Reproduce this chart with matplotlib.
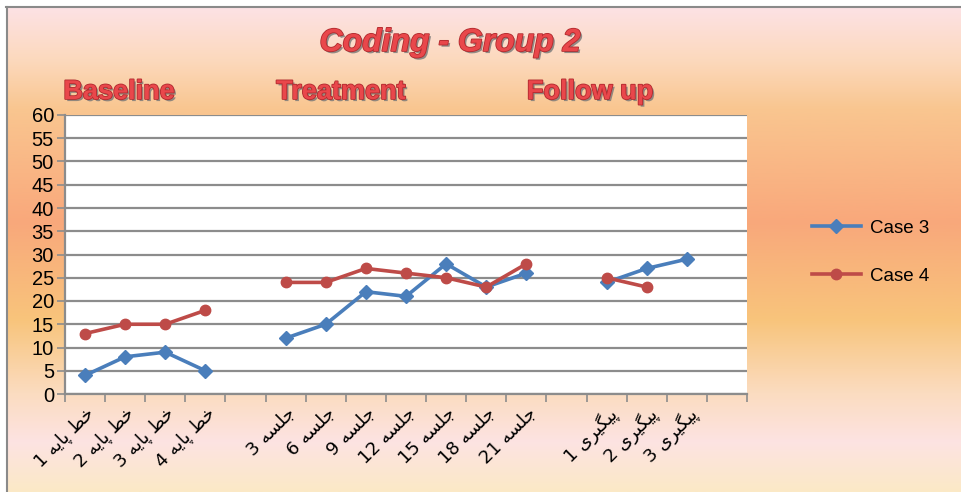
import matplotlib.pyplot as plt
import matplotlib.patheffects as pe
import numpy as np
from matplotlib.colors import LinearSegmentedColormap

nan = np.nan

# categories (logical Persian text), empty strings are the gaps between phases
categories = ["خط پایه 1", "خط پایه 2", "خط پایه 3", "خط پایه 4", "",
              "جلسه 3", "جلسه 6", "جلسه 9", "جلسه 12", "جلسه 15", "جلسه 18", "جلسه 21", "",
              "پیگیری 1", "پیگیری 2", "پیگیری 3", ""]
case3 = [4, 8, 9, 5, nan, 12, 15, 22, 21, 28, 23, 26, nan, 24, 27, 29, nan]
case4 = [13, 15, 15, 18, nan, 24, 24, 27, 26, 25, 23, 28, nan, 25, 23, nan, nan]
phases = ["Baseline", "Treatment", "Follow up"]
title = "Coding - Group 2"

# --- tiny arabic shaper (matplotlib does no shaping / bidi) ---
forms = {  # iso, final, initial, medial
    "ا": ("\uFE8D", "\uFE8E", None, None),
    "ر": ("\uFEAD", "\uFEAE", None, None),
    "پ": ("\uFB56", "\uFB57", "\uFB58", "\uFB59"),
    "ی": ("\uFBFC", "\uFBFD", "\uFBFE", "\uFBFF"),
    "ه": ("\uFEE9", "\uFEEA", "\uFEEB", "\uFEEC"),
    "خ": ("\uFEA5", "\uFEA6", "\uFEA7", "\uFEA8"),
    "ط": ("\uFEC1", "\uFEC2", "\uFEC3", "\uFEC4"),
    "ج": ("\uFE9D", "\uFE9E", "\uFE9F", "\uFEA0"),
    "ل": ("\uFEDD", "\uFEDE", "\uFEDF", "\uFEE0"),
    "س": ("\uFEB1", "\uFEB2", "\uFEB3", "\uFEB4"),
    "گ": ("\uFB92", "\uFB93", "\uFB94", "\uFB95"),
}


def shape_word(w):
    out = []
    for i, c in enumerate(w):
        if c not in forms:
            out.append(c)
            continue
        prev = w[i - 1] if i > 0 else None
        nxt = w[i + 1] if i < len(w) - 1 else None
        jp = prev in forms and forms[prev][2] is not None
        jn = nxt in forms and forms[c][2] is not None
        iso, fin, ini, med = forms[c]
        if jp and jn:
            out.append(med)
        elif jp:
            out.append(fin)
        elif jn:
            out.append(ini)
        else:
            out.append(iso)
    return "".join(out[::-1])


def visual(s):
    words = s.split(" ")
    return " ".join(shape_word(w) if not w.isdigit() else w for w in words[::-1])


labels = [visual(c) for c in categories]

plt.rcParams["font.family"] = ["Liberation Sans", "DejaVu Sans"]

fig = plt.figure(figsize=(9.62, 4.92), dpi=100)

# background gradient
bg = fig.add_axes([0, 0, 1, 1])
cmap = LinearSegmentedColormap.from_list("bg", [
    (0.0, "#fde3ea"), (0.12, "#fcd9bd"), (0.22, "#f9c690"), (0.45, "#f9a87b"),
    (0.65, "#f8c47b"), (0.80, "#fbdcc0"), (0.90, "#fde3e2"), (1.0, "#fbe9c6")])
bg.imshow(np.linspace(0, 1, 256).reshape(-1, 1), aspect="auto", cmap=cmap,
          extent=[0, 1, 0, 1])
bg.set_xlim(0, 1)
bg.set_ylim(0, 1)
bg.axis("off")
fig.patches.append(plt.Rectangle((0, 1 - 6 / 492), 1, 6 / 492, transform=fig.transFigure,
                                 color="white", zorder=1))
fig.patches.append(plt.Rectangle((0, 0), 6 / 962, 1, transform=fig.transFigure,
                                 color="white", zorder=1))
fig.add_artist(plt.Line2D([6 / 962, 1], [1 - 7 / 492] * 2, color="#8a8a8a", lw=1.5))
fig.add_artist(plt.Line2D([6.5 / 962] * 2, [0, 1 - 7 / 492], color="#8a8a8a", lw=1.5))

ax = fig.add_axes([65 / 962, 1 - 394 / 492, 682 / 962, 279 / 492])
ax.set_facecolor("white")
x = np.arange(len(categories))
ax.plot(x, case3, color="#4a7ebb", lw=2.6, marker="D", ms=7.5, label="Case 3", zorder=3)
ax.plot(x, case4, color="#be4b48", lw=2.6, marker="o", ms=7.5, label="Case 4", zorder=3)

ax.set_ylim(0, 60)
ax.set_xlim(-0.5, len(categories) - 0.5)
ax.set_yticks(range(0, 61, 5))
ax.yaxis.grid(True, color="#8c8c8c", lw=1.6)
ax.set_axisbelow(True)
ax.tick_params(axis="y", labelsize=14.5, length=6, width=1.2, color="#8c8c8c", pad=2)
ax.set_xticks(x)
ax.set_xticklabels(labels, rotation=45, ha="right", va="top", rotation_mode="anchor",
                   fontsize=13, family=["DejaVu Sans"])
ax.tick_params(axis="x", length=0, pad=7)
ax.set_xticks(np.arange(-0.5, len(categories)), minor=True)
ax.tick_params(axis="x", which="minor", length=6, width=1.2, color="#8c8c8c")
for s in ["top", "right"]:
    ax.spines[s].set_visible(False)
for s in ["left", "bottom"]:
    ax.spines[s].set_color("#8c8c8c")
    ax.spines[s].set_linewidth(1.6)

fx = [pe.withSimplePatchShadow(offset=(1.5, -1.5), shadow_rgbFace="#777777", alpha=0.8),
      pe.Stroke(linewidth=1.2, foreground="#b02a2e"), pe.Normal()]
fig.text(450 / 962, 1 - 43 / 492, title, ha="center", va="center", fontsize=23,
         fontweight="bold", style="italic", color="#e9474b", path_effects=fx)
for px, t in zip([119, 341, 590], phases):
    fig.text(px / 962, 1 - 92 / 492, t, ha="center", va="center", fontsize=19.5,
             fontweight="bold", color="#e9474b", path_effects=fx)

fig.legend(loc="center left", bbox_to_anchor=(795 / 962, 1 - 252 / 492), frameon=False,
           fontsize=13.5, handlelength=2.6, labelspacing=1.65, handletextpad=0.5)

fig.savefig("out.png", dpi=100)
